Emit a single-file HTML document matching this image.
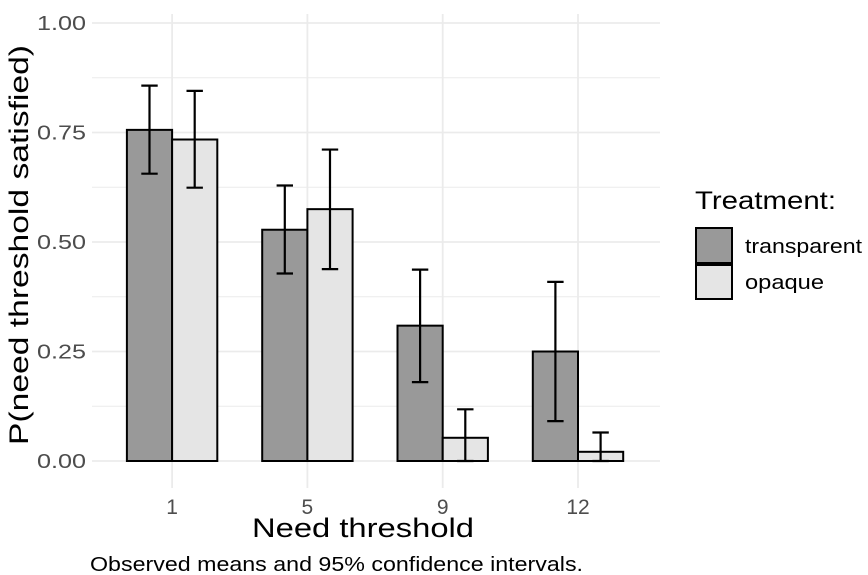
<!DOCTYPE html>
<html><head><meta charset="utf-8"><style>
body{margin:0;background:#fff}
svg{display:block;font-family:"Liberation Sans",sans-serif}
</style></head><body>
<svg id="chart" width="868" height="575" viewBox="0 0 868 575">
<g id="grid"></g>
<g id="bars"></g>
<g id="errs"></g>
<g id="yticks"></g>
<g id="xticks"></g>
<text transform="translate(28,245) rotate(-90)" text-anchor="middle" font-size="27" textLength="400" lengthAdjust="spacingAndGlyphs" fill="#000">P(need threshold satisfied)</text>
<text x="363" y="537" text-anchor="middle" font-size="27" textLength="222" lengthAdjust="spacingAndGlyphs" fill="#000">Need threshold</text>
<text x="90" y="571" font-size="20" textLength="493" lengthAdjust="spacingAndGlyphs" fill="#000">Observed means and 95% confidence intervals.</text>
<g>
<text x="695" y="209" font-size="25" textLength="141" lengthAdjust="spacingAndGlyphs" fill="#000">Treatment:</text>
<rect x="696" y="228" width="36" height="35" fill="#999" stroke="#000" stroke-width="2"/>
<rect x="696" y="265" width="36" height="34" fill="#e5e5e5" stroke="#000" stroke-width="2"/>
<text x="745" y="253" font-size="20" textLength="117" lengthAdjust="spacingAndGlyphs" fill="#000">transparent</text>
<text x="745" y="289" font-size="20" textLength="79" lengthAdjust="spacingAndGlyphs" fill="#000">opaque</text>
</g>
</svg>
<script>
const categories=["1","5","9","12"];
const transparentMean=[0.756,0.528,0.309,0.25];
const transparentLo=[0.656,0.428,0.180,0.091];
const transparentHi=[0.857,0.629,0.437,0.409];
const opaqueMean=[0.734,0.575,0.053,0.021];
const opaqueLo=[0.624,0.438,0,0];
const opaqueHi=[0.845,0.711,0.118,0.065];
const yTicks=[0,0.25,0.5,0.75,1];
const yTickLabels=["0.00","0.25","0.50","0.75","1.00"];

const NS="http://www.w3.org/2000/svg";
const y0=461, yS=438, x0=172.1, step=135.3, bw=45.2, pl=92, pr=660;
const y=v=>y0-v*yS;
const x=i=>x0+i*step;
function mk(tag,parent,attrs){const e=document.createElementNS(NS,tag);for(const k in attrs)e.setAttribute(k,attrs[k]);parent.appendChild(e);return e;}
const grid=document.getElementById('grid');
for(let v=0;v<=1.0001;v+=0.125){
  const l=mk('line',grid,{x1:pl,x2:pr,y1:y(v),y2:y(v),stroke:'#ebebeb','stroke-width':Math.abs(v*4-Math.round(v*4))<1e-6?1.8:1});
  
  
}
categories.forEach((c,i)=>{
  const l=mk('line',grid,{x1:x(i),x2:x(i),y1:14,y2:488,stroke:'#ebebeb','stroke-width':1.8});
  
  
});
const bars=document.getElementById('bars'),errs=document.getElementById('errs');
const series=[{m:transparentMean,lo:transparentLo,hi:transparentHi,fill:'#999',off:-0.5,n:'transparent'},
              {m:opaqueMean,lo:opaqueLo,hi:opaqueHi,fill:'#e5e5e5',off:0.5,n:'opaque'}];
series.forEach(s=>{
  categories.forEach((c,i)=>{
    const cx=x(i)+s.off*bw;
    const r=mk('rect',bars,{x:cx-bw/2,y:y(s.m[i]),width:bw,height:y(0)-y(s.m[i]),fill:s.fill,stroke:'#000','stroke-width':2});
    
    
    const g=mk('g',errs,{stroke:'#000','stroke-width':2.2});
    
    
    mk('line',g,{x1:cx,x2:cx,y1:y(s.hi[i]),y2:y(s.lo[i])});
    mk('line',g,{x1:cx-8.2,x2:cx+8.2,y1:y(s.hi[i]),y2:y(s.hi[i])});
    mk('line',g,{x1:cx-8.2,x2:cx+8.2,y1:y(s.lo[i]),y2:y(s.lo[i])});
  });
});
const yt=document.getElementById('yticks');
yTicks.forEach((v,i)=>{
  const t=mk('text',yt,{x:86,y:y(v)+7,'text-anchor':'end','font-size':20,textLength:49,lengthAdjust:'spacingAndGlyphs',fill:'#4d4d4d'});
  t.textContent=yTickLabels[i];
  
  
});
const xt=document.getElementById('xticks');
categories.forEach((c,i)=>{
  const t=mk('text',xt,{x:x(i),y:514,'text-anchor':'middle','font-size':21,fill:'#4d4d4d'});
  t.textContent=c;
  
  
});
</script>
</body></html>
